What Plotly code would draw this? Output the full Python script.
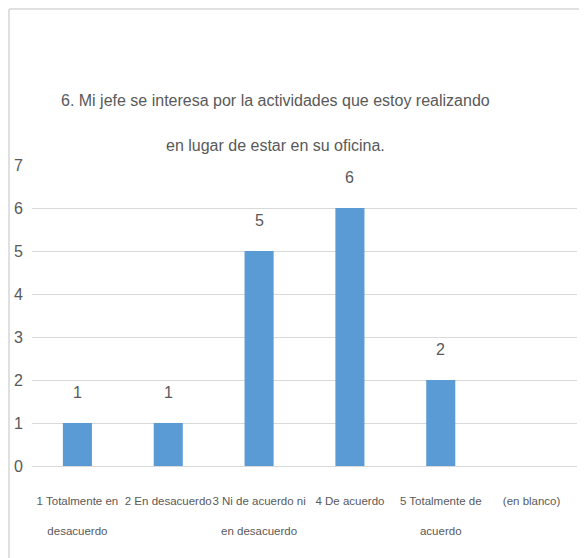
import plotly.graph_objects as go

categories = [
    "1 Totalmente en<br><br>desacuerdo",
    "2 En desacuerdo",
    "3 Ni de acuerdo ni<br><br>en desacuerdo",
    "4 De acuerdo",
    "5 Totalmente de<br><br>acuerdo",
    "(en blanco)",
]
values = [1, 1, 5, 6, 2, None]
title_lines = [
    "6. Mi jefe se interesa por la actividades que estoy realizando",
    "en lugar de estar en su oficina.",
]

FONT = "Liberation Sans, Arial, sans-serif"
GRAY = "#595959"

# the page adds an 8px offset; figure pixels = screen pixels - 8
OFF = 8
W, H = 587 - OFF, 558 - OFF
L, R, T, B = 32 - OFF, W - (577 - OFF), 165 - OFF, H - (466 - OFF)
PW, PH = W - L - R, H - T - B


def px_x(sx):
    return (sx - OFF - L) / PW


def px_y(sy):
    return (H - B - (sy - OFF)) / PH


fig = go.Figure()
fig.add_trace(go.Bar(
    x=categories,
    y=values,
    marker=dict(color="#5B9BD5", line=dict(width=0)),
    width=0.32,
    hoverinfo="skip",
))

annotations = []
for c, v in zip(categories, values):
    if v is None:
        continue
    annotations.append(dict(
        x=c, y=v, xref="x", yref="y", text=str(v), showarrow=False,
        yshift=31, font=dict(family=FONT, size=16, color=GRAY),
    ))
for line, sy in zip(title_lines, [100, 145]):
    annotations.append(dict(
        x=px_x(275), y=px_y(sy), xref="paper", yref="paper",
        xanchor="center", yanchor="middle", text=line, showarrow=False,
        font=dict(family=FONT, size=16, color=GRAY),
    ))

fig.update_layout(
    width=W, height=H,
    margin=dict(l=L, r=R, t=T, b=B),
    paper_bgcolor="white",
    plot_bgcolor="white",
    showlegend=False,
    font=dict(family=FONT, color=GRAY),
    annotations=annotations,
    xaxis=dict(
        showgrid=False, showline=True, linecolor="#D9D9D9", linewidth=1,
        ticks="", tickangle=0, automargin=False,
        tickfont=dict(family=FONT, size=11.5, color=GRAY),
        ticklabelstandoff=24,
        fixedrange=True,
    ),
    yaxis=dict(
        range=[0, 7], dtick=1, showgrid=True, gridcolor="#D9D9D9", gridwidth=1,
        zeroline=False, showline=False, ticks="", automargin=False,
        tickfont=dict(family=FONT, size=16, color=GRAY),
        ticklabelstandoff=8,
        fixedrange=True,
    ),
    shapes=[
        dict(type="line", xref="paper", yref="paper",
             x0=px_x(9), x1=px_x(620), y0=px_y(9), y1=px_y(9),
             line=dict(color="#E0E0E0", width=2)),
        dict(type="line", xref="paper", yref="paper",
             x0=px_x(9), x1=px_x(9), y0=px_y(9), y1=px_y(600),
             line=dict(color="#E0E0E0", width=2)),
    ],
)

fig.write_html("out.html", config={"displayModeBar": False})
